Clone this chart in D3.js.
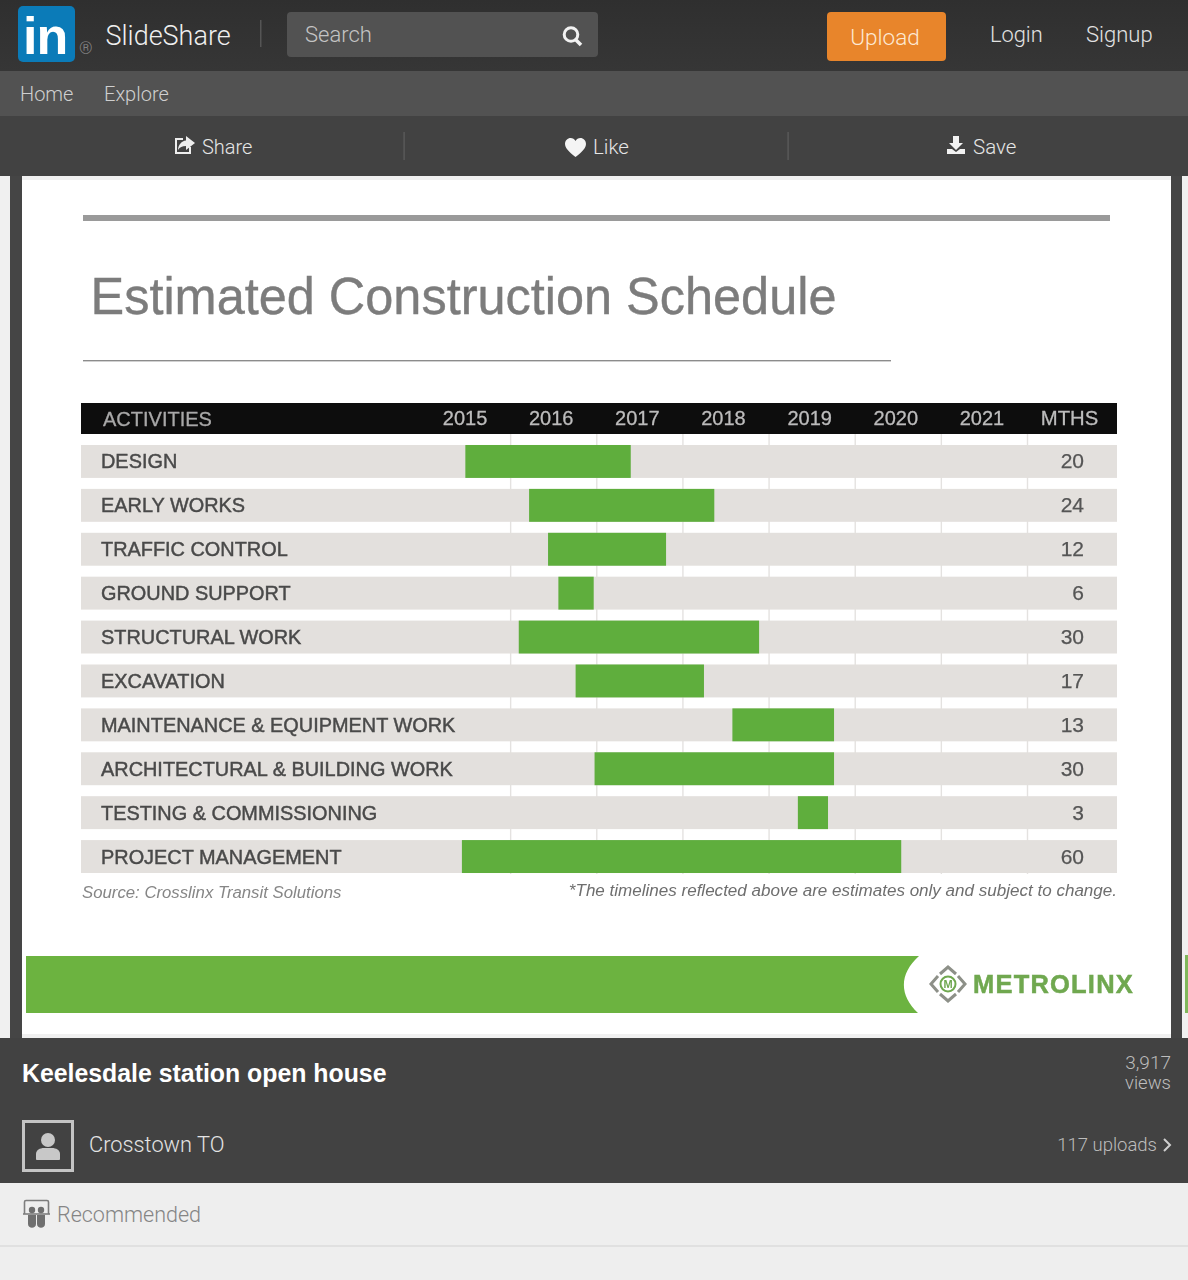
<!DOCTYPE html>
<html>
<head>
<meta charset="utf-8">
<script src="https://cdn.jsdelivr.net/npm/d3@7/dist/d3.min.js"></script>
<style>
  html, body { margin: 0; padding: 0; background: #f0f0f0; }
  svg { display: block; }
  .ui { font-family: Roboto, "Liberation Sans", sans-serif; font-weight: 300; }
  .slide text { font-family: "Liberation Sans", Arial, sans-serif; }
</style>
</head>
<body>
<svg id="page" width="1188" height="1280" viewBox="0 0 1188 1280"></svg>
<script>
// Schedule data: decimal-year start and end of each activity, with stated duration
const activities = ["DESIGN", "EARLY WORKS", "TRAFFIC CONTROL", "GROUND SUPPORT", "STRUCTURAL WORK",
  "EXCAVATION", "MAINTENANCE & EQUIPMENT WORK", "ARCHITECTURAL & BUILDING WORK",
  "TESTING & COMMISSIONING", "PROJECT MANAGEMENT"];
const startYears = [2015.48, 2016.22, 2016.44, 2016.56, 2016.10, 2016.76, 2018.58, 2016.98, 2019.34, 2015.44];
const endYears = [2017.40, 2018.37, 2017.81, 2016.97, 2018.89, 2018.25, 2019.76, 2019.76, 2019.69, 2020.54];
const months = [20, 24, 12, 6, 30, 17, 13, 30, 3, 60];
const years = [2015, 2016, 2017, 2018, 2019, 2020, 2021];

const svg = d3.select("#page");
const defs = svg.append("defs");
defs.append("filter").attr("id", "soft")
  .attr("x", "-5%").attr("y", "-5%").attr("width", "110%").attr("height", "110%")
  .append("feGaussianBlur").attr("stdDeviation", 0.7);
const hdr = defs.append("linearGradient").attr("id", "topbar").attr("x1", 0).attr("x2", 0).attr("y1", 0).attr("y2", 1);
hdr.append("stop").attr("offset", 0).attr("stop-color", "#2f2f2f");
hdr.append("stop").attr("offset", 1).attr("stop-color", "#363636");

const rect = (g, x, y, w, h, fill, r) => g.append("rect").attr("x", x).attr("y", y)
  .attr("width", w).attr("height", h).attr("fill", fill).attr("rx", r || 0);
const label = (g, s, x, y, size, fill, anchor) => g.append("text").text(s).attr("x", x).attr("y", y)
  .attr("font-size", size).attr("fill", fill).attr("text-anchor", anchor || "start");

/* ---------- site chrome ---------- */
const ui = svg.append("g").attr("class", "ui");
rect(ui, 0, 0, 1188, 71, "url(#topbar)");
rect(ui, 0, 71, 1188, 45, "#525252");
rect(ui, 0, 116, 1188, 60, "#424242");

rect(ui, 18, 6, 57, 56, "#0b7bb8", 5);
ui.append("text").text("in").attr("x", 23).attr("y", 54).attr("font-size", 52)
  .attr("font-weight", 700).attr("fill", "#fff").attr("font-family", "Liberation Sans").attr("letter-spacing", -1);
label(ui, "®", 79, 54, 17, "#8a8a8a");
label(ui, "SlideShare", 105.5, 45, 27, "#efefef");
rect(ui, 260, 20, 1.5, 27, "#555");

rect(ui, 287, 12, 311, 45, "#525252", 4);
label(ui, "Search", 305, 42, 22, "#c4c4c4");
ui.append("circle").attr("cx", 571).attr("cy", 34.5).attr("r", 6.8).attr("fill", "none").attr("stroke", "#f2f2f2").attr("stroke-width", 3);
ui.append("line").attr("x1", 575.5).attr("y1", 39.5).attr("x2", 581).attr("y2", 45).attr("stroke", "#f2f2f2").attr("stroke-width", 3.6);

rect(ui, 827, 12, 119, 49, "#e8852b", 4);
label(ui, "Upload", 885, 44.5, 22.5, "#fde9d3", "middle");
label(ui, "Login", 990, 42, 21.8, "#e2e2e2");
label(ui, "Signup", 1086, 42, 22, "#e2e2e2");

label(ui, "Home", 20, 100.5, 20, "#cfcfcf");
label(ui, "Explore", 104, 100.5, 20, "#cfcfcf");

rect(ui, 403.5, 132, 1.2, 28, "#5e5e5e");
rect(ui, 787.5, 132, 1.2, 28, "#5e5e5e");
label(ui, "Share", 202, 153.5, 20, "#e6e6e6");
label(ui, "Like", 593, 153.5, 20.5, "#e6e6e6");
label(ui, "Save", 973, 153.5, 20.5, "#e6e6e6");

// share, heart and save glyphs
ui.append("path").attr("d", "M190 147v6h-14v-14h7").attr("fill", "none").attr("stroke", "#eee").attr("stroke-width", 2);
ui.append("path").attr("d", "M186 136l9 7-9 7v-4c-4 0-6 1-8 4 .4-5.500 3.500-9 8-9.500z").attr("fill", "#eee");
ui.append("path").attr("d", "M575.500 157c-3-2.600-10.500-7.600-10.500-13 0-3.600 2.700-6 5.600-6 2.100 0 3.900 1 4.900 2.900 1-1.900 2.800-2.900 4.900-2.900 2.900 0 5.600 2.400 5.600 6 0 5.400-7.500 10.400-10.500 13z").attr("fill", "#f4f4f4");
ui.append("path").attr("d", "M953 136h6v7h4l-7 7-7-7h4z M947 149h5l4 3 4-3h5v5h-18z").attr("fill", "#f2f2f2");

/* ---------- slide frame ---------- */
rect(svg, 0, 176, 1188, 862, "#f0f0f0");
rect(svg, 10, 176, 12, 862, "#454545");
rect(svg, 1171, 176, 11, 862, "#454545");
rect(svg, 22, 180, 1149, 854, "#ffffff");
rect(svg, 1185, 955, 3, 58, "#7fb75a");

/* ---------- slide contents ---------- */
const slide = svg.append("g").attr("class", "slide").attr("filter", "url(#soft)");
rect(slide, 83, 215, 1027, 6, "#9a9a9a");
label(slide, "Estimated Construction Schedule", 90.5, 314, 52.5, "#7c7c7c")
  .attr("textLength", 746).attr("lengthAdjust", "spacingAndGlyphs")
  .attr("stroke", "#7c7c7c").attr("stroke-width", 0.4);
rect(slide, 83, 360, 808, 1.4, "#8c8c8c");

const x = d3.scaleLinear().domain([2015, 2022]).range([424, 1027]);
const y = d3.scaleBand().domain(activities).range([439.5, 878.5]).paddingInner(0.25).paddingOuter(0.125);

rect(slide, 81, 403, 1036, 31, "#0d0b0c");

// Year dividers show only in the white gaps between rows
const grid = d3.axisBottom(x).tickValues(years.map(d => d + 1)).tickSize(440).tickFormat("");
slide.append("g").attr("transform", "translate(0,434)").call(grid)
  .call(g => g.select(".domain").remove())
  .call(g => g.selectAll("line").attr("stroke", "#e4e2e0").attr("stroke-width", 1.4));

slide.append("g").selectAll("rect").data(activities).join("rect")
  .attr("x", 81).attr("width", 1036).attr("y", d => y(d)).attr("height", y.bandwidth())
  .attr("fill", "#e3e0dd");

slide.append("g").selectAll("rect").data(activities).join("rect")
  .attr("x", (d, i) => x(startYears[i]))
  .attr("width", (d, i) => x(endYears[i]) - x(startYears[i]))
  .attr("y", d => y(d)).attr("height", y.bandwidth())
  .attr("fill", "#5fae3d");

// Year headings sit in the middle of each year column
const yearAxis = d3.axisTop(x).tickValues(years.map(d => d + 0.5)).tickSize(0).tickPadding(0).tickFormat(d => String(Math.floor(d)));
slide.append("g").attr("transform", "translate(0,425)").call(yearAxis)
  .call(g => g.select(".domain").remove())
  .call(g => g.selectAll("text").attr("font-size", 20).attr("fill", "#bcbcbc").attr("dy", 0).attr("dx", -2.5)
    .attr("stroke", "#bcbcbc").attr("stroke-width", 0.3));
label(slide, "ACTIVITIES", 103, 425.500, 20, "#a8a8a8").attr("stroke", "#a8a8a8").attr("stroke-width", 0.3);
label(slide, "MTHS", 1069.5, 425, 20.3, "#bcbcbc", "middle").attr("stroke", "#bcbcbc").attr("stroke-width", 0.3);

slide.append("g").selectAll("text").data(activities).join("text")
  .text(d => d).attr("x", 101).attr("y", d => y(d) + y.bandwidth() / 2 + 7)
  .attr("font-size", 19.9).attr("fill", "#4a4a4a").attr("stroke", "#4a4a4a").attr("stroke-width", 0.45);
slide.append("g").selectAll("text").data(months).join("text")
  .text(d => d).attr("x", 1084).attr("text-anchor", "end")
  .attr("y", (d, i) => y(activities[i]) + y.bandwidth() / 2 + 7)
  .attr("font-size", 21).attr("fill", "#555").attr("stroke", "#555").attr("stroke-width", 0.25);

label(slide, "Source: Crosslinx Transit Solutions", 82, 898, 16.75, "#868686").attr("font-style", "italic");
label(slide, "*The timelines reflected above are estimates only and subject to change.", 1117, 896, 17.04, "#6e6e6e", "end").attr("font-style", "italic");

// Footer banner with its concave right end, then the operator's mark
slide.append("path").attr("d", "M26 956H919C899 974 899 995 918 1013H26z").attr("fill", "#6cb33f");
const mark = slide.append("g").attr("transform", "translate(948,984)");
mark.append("circle").attr("r", 7.5).attr("fill", "none").attr("stroke", "#6fa850").attr("stroke-width", 2);
label(mark, "M", 0, 4, 11, "#6fa850", "middle").attr("font-weight", 700);
mark.append("path").attr("d", "M-8 -10L0 -17L8 -10 M10 -8L17 0L10 8 M8 10L0 17L-8 10 M-10 8L-17 0L-10 -8")
  .attr("fill", "none").attr("stroke", "#8d9088").attr("stroke-width", 3);
label(slide, "METROLINX", 973, 993, 25.5, "#6fa850").attr("font-weight", 700).attr("letter-spacing", 1.2)
  .attr("stroke", "#6fa850").attr("stroke-width", 0.5);

/* ---------- presentation footer ---------- */
const foot = svg.append("g").attr("class", "ui");
rect(foot, 0, 1038, 1188, 145, "#424242");
rect(foot, 0, 1183, 1188, 97, "#eeeeee");
rect(foot, 0, 1245, 1188, 2, "#e0e0e0");

label(foot, "Keelesdale station open house", 22, 1082, 24.85, "#fff")
  .attr("font-weight", 700).attr("font-family", "Liberation Sans");
label(foot, "3,917", 1171, 1069, 19, "#bdbdbd", "end");
label(foot, "views", 1171, 1089, 18.5, "#bdbdbd", "end");

foot.append("rect").attr("x", 23.5).attr("y", 1121.5).attr("width", 49).attr("height", 49)
  .attr("fill", "none").attr("stroke", "#c4c4c4").attr("stroke-width", 3);
foot.append("circle").attr("cx", 48).attr("cy", 1140).attr("r", 7).attr("fill", "#c8c8c8");
foot.append("path").attr("d", "M36 1159v-5c0-4 4-6 8-6h8c4 0 8 2 8 6v5c0 .6-.6 1-1 1H37c-.5 0-1-.4-1-1z").attr("fill", "#c8c8c8");
label(foot, "Crosstown TO", 89, 1152, 21.8, "#e4e4e4");
label(foot, "117 uploads", 1157, 1151, 18.5, "#bdbdbd", "end");
foot.append("path").attr("d", "M1164 1139l6 6-6 6").attr("fill", "none").attr("stroke", "#cfcfcf").attr("stroke-width", 2);

// Recommended icon: a small screen with two figures below it
foot.append("path").attr("d", "M24.500 1214v-12c0-1 .6-1.500 1.500-1.500h21c1 0 1.500.5 1.500 1.500v12").attr("fill", "none").attr("stroke", "#7d7d7d").attr("stroke-width", 1.6);
foot.append("path").attr("d", "M23 1214h27").attr("stroke", "#7d7d7d").attr("stroke-width", 1.6);
foot.append("circle").attr("cx", 32).attr("cy", 1210).attr("r", 3.2).attr("fill", "#6f6f6f");
foot.append("circle").attr("cx", 41).attr("cy", 1210).attr("r", 3.2).attr("fill", "#6f6f6f");
foot.append("path").attr("d", "M28 1215h8v9c0 5-8 5-8 0z M37 1215h8v9c0 5-8 5-8 0z").attr("fill", "#6f6f6f");
label(foot, "Recommended", 57, 1222, 21.5, "#858585");
</script>
</body>
</html>
